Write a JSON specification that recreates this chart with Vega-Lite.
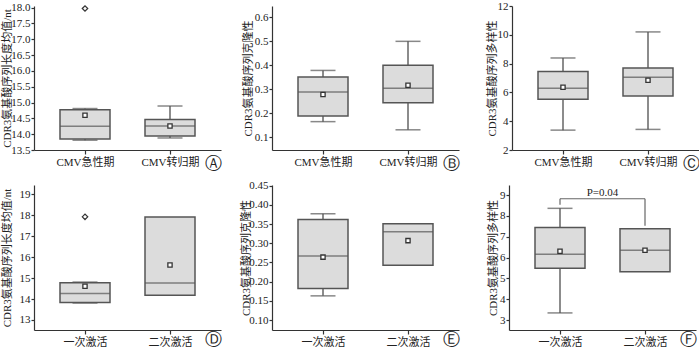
{
  "$schema": "https://vega.github.io/schema/vega-lite/v6.json",
  "padding": {"top": 0, "left": 0, "right": 0, "bottom": 0},
  "spacing": 8,
  "datasets": {
    "A": [
      {"g": "CMV急性期", "lo": 13.81, "q1": 13.85, "med": 14.25, "q3": 14.77, "hi": 14.81, "mean": 14.6},
      {"g": "CMV转归期", "lo": 13.88, "q1": 13.94, "med": 14.26, "q3": 14.46, "hi": 14.89, "mean": 14.26}
    ],
    "Ao": [{"g": "CMV急性期", "v": 17.97}],
    "B": [
      {"g": "CMV急性期", "lo": 0.165, "q1": 0.188, "med": 0.288, "q3": 0.351, "hi": 0.378, "mean": 0.278},
      {"g": "CMV转归期", "lo": 0.131, "q1": 0.244, "med": 0.304, "q3": 0.4, "hi": 0.499, "mean": 0.316}
    ],
    "C": [
      {"g": "CMV急性期", "lo": 3.38, "q1": 5.52, "med": 6.28, "q3": 7.45, "hi": 8.39, "mean": 6.36},
      {"g": "CMV转归期", "lo": 3.43, "q1": 5.75, "med": 7.05, "q3": 7.7, "hi": 10.2, "mean": 6.84}
    ],
    "D": [
      {"g": "一次激活", "lo": 13.81, "q1": 13.84, "med": 14.27, "q3": 14.78, "hi": 14.81, "mean": 14.61},
      {"g": "二次激活", "lo": null, "q1": 14.18, "med": 14.77, "q3": 17.92, "hi": null, "mean": 15.63}
    ],
    "Do": [{"g": "一次激活", "v": 17.93}],
    "E": [
      {"g": "一次激活", "lo": 0.163, "q1": 0.182, "med": 0.267, "q3": 0.362, "hi": 0.377, "mean": 0.264},
      {"g": "二次激活", "lo": null, "q1": 0.243, "med": 0.33, "q3": 0.351, "hi": null, "mean": 0.307}
    ],
    "F": [
      {"g": "一次激活", "lo": 3.34, "q1": 5.49, "med": 6.16, "q3": 7.44, "hi": 8.36, "mean": 6.3},
      {"g": "二次激活", "lo": null, "q1": 5.32, "med": 6.35, "q3": 7.38, "hi": null, "mean": 6.35}
    ],
    "Fv": [
      {"g": "一次激活", "top": 8.82, "bottom": 8.53},
      {"g": "二次激活", "top": 8.82, "bottom": 7.52}
    ],
    "Fh": [{"g1": "一次激活", "g2": "二次激活", "y": 8.82}]
  },
  "vconcat": [
    {
      "spacing": 20,
      "hconcat": [
        {
          "width": 187, "height": 144,
          "data": {"name": "A"},
          "encoding": {"x": {"field": "g", "type": "nominal", "scale": {"type": "point", "padding": 0.6, "domain": ["CMV急性期", "CMV转归期"]}, "axis": {"title": "Ⓐ"}}},
          "layer": [
            {"mark": {"type": "rule", "color": "#666", "strokeWidth": 1.5}, "encoding": {"y": {"field": "lo", "type": "quantitative", "title": "CDR3氨基酸序列长度均值/nt", "scale": {"domain": [13.5, 18.05], "zero": false, "nice": false}, "axis": {"values": [13.5, 14, 14.5, 15, 15.5, 16, 16.5, 17, 17.5, 18], "tickCount": 30, "format": ".1f", "minExtent": 22, "maxExtent": 22, "titlePadding": 0}}, "y2": {"field": "hi"}}},
            {"mark": {"type": "tick", "color": "#555", "size": 25, "thickness": 1.5}, "encoding": {"y": {"field": "lo", "type": "quantitative", "scale": {"domain": [13.5, 18.05], "zero": false, "nice": false}}}},
            {"mark": {"type": "tick", "color": "#555", "size": 25, "thickness": 1.5}, "encoding": {"y": {"field": "hi", "type": "quantitative", "scale": {"domain": [13.5, 18.05], "zero": false, "nice": false}}}},
            {"mark": {"type": "bar", "size": 50, "fill": "#dcdcdc", "stroke": "#555", "strokeWidth": 1.5}, "encoding": {"y": {"field": "q1", "type": "quantitative", "scale": {"domain": [13.5, 18.05], "zero": false, "nice": false}}, "y2": {"field": "q3"}}},
            {"mark": {"type": "tick", "color": "#555", "size": 50, "thickness": 1.5}, "encoding": {"y": {"field": "med", "type": "quantitative", "scale": {"domain": [13.5, 18.05], "zero": false, "nice": false}}}},
            {"mark": {"type": "point", "shape": "square", "size": 18, "filled": true, "fill": "white", "stroke": "#333", "strokeWidth": 1.3, "opacity": 1}, "encoding": {"y": {"field": "mean", "type": "quantitative", "scale": {"domain": [13.5, 18.05], "zero": false, "nice": false}}}},
            {"data": {"name": "Ao"}, "mark": {"type": "point", "shape": "diamond", "size": 30, "filled": true, "fill": "white", "stroke": "#333", "strokeWidth": 1.2, "opacity": 1}, "encoding": {"y": {"field": "v", "type": "quantitative", "scale": {"domain": [13.5, 18.05], "zero": false, "nice": false}}}}
          ]
        },
        {
          "spacing": 26,
          "hconcat": [
            {
              "width": 187, "height": 144,
              "data": {"name": "B"},
              "encoding": {"x": {"field": "g", "type": "nominal", "scale": {"type": "point", "padding": 0.6, "domain": ["CMV急性期", "CMV转归期"]}, "axis": {"title": "Ⓑ"}}},
              "layer": [
                {"mark": {"type": "rule", "color": "#666", "strokeWidth": 1.5}, "encoding": {"y": {"field": "lo", "type": "quantitative", "title": "CDR3氨基酸序列克隆性", "scale": {"domain": [0.047, 0.646], "zero": false, "nice": false}, "axis": {"values": [0.1, 0.2, 0.3, 0.4, 0.5, 0.6], "tickCount": 30, "format": ".1f", "minExtent": 18, "maxExtent": 18, "titlePadding": 1}}, "y2": {"field": "hi"}}},
                {"mark": {"type": "tick", "color": "#555", "size": 25, "thickness": 1.5}, "encoding": {"y": {"field": "lo", "type": "quantitative", "scale": {"domain": [0.047, 0.646], "zero": false, "nice": false}}}},
                {"mark": {"type": "tick", "color": "#555", "size": 25, "thickness": 1.5}, "encoding": {"y": {"field": "hi", "type": "quantitative", "scale": {"domain": [0.047, 0.646], "zero": false, "nice": false}}}},
                {"mark": {"type": "bar", "size": 50, "fill": "#dcdcdc", "stroke": "#555", "strokeWidth": 1.5}, "encoding": {"y": {"field": "q1", "type": "quantitative", "scale": {"domain": [0.047, 0.646], "zero": false, "nice": false}}, "y2": {"field": "q3"}}},
                {"mark": {"type": "tick", "color": "#555", "size": 50, "thickness": 1.5}, "encoding": {"y": {"field": "med", "type": "quantitative", "scale": {"domain": [0.047, 0.646], "zero": false, "nice": false}}}},
                {"mark": {"type": "point", "shape": "square", "size": 18, "filled": true, "fill": "white", "stroke": "#333", "strokeWidth": 1.3, "opacity": 1}, "encoding": {"y": {"field": "mean", "type": "quantitative", "scale": {"domain": [0.047, 0.646], "zero": false, "nice": false}}}}
              ]
            },
            {
              "width": 187, "height": 144,
              "data": {"name": "C"},
              "encoding": {"x": {"field": "g", "type": "nominal", "scale": {"type": "point", "padding": 0.6, "domain": ["CMV急性期", "CMV转归期"]}, "axis": {"title": "Ⓒ"}}},
              "layer": [
                {"mark": {"type": "rule", "color": "#666", "strokeWidth": 1.5}, "encoding": {"y": {"field": "lo", "type": "quantitative", "title": "CDR3氨基酸序列多样性", "scale": {"domain": [2, 12], "zero": false, "nice": false}, "axis": {"values": [2, 4, 6, 8, 10, 12], "tickCount": 30, "format": "d", "minExtent": 14, "maxExtent": 14, "titlePadding": 1}}, "y2": {"field": "hi"}}},
                {"mark": {"type": "tick", "color": "#555", "size": 25, "thickness": 1.5}, "encoding": {"y": {"field": "lo", "type": "quantitative", "scale": {"domain": [2, 12], "zero": false, "nice": false}}}},
                {"mark": {"type": "tick", "color": "#555", "size": 25, "thickness": 1.5}, "encoding": {"y": {"field": "hi", "type": "quantitative", "scale": {"domain": [2, 12], "zero": false, "nice": false}}}},
                {"mark": {"type": "bar", "size": 50, "fill": "#dcdcdc", "stroke": "#555", "strokeWidth": 1.5}, "encoding": {"y": {"field": "q1", "type": "quantitative", "scale": {"domain": [2, 12], "zero": false, "nice": false}}, "y2": {"field": "q3"}}},
                {"mark": {"type": "tick", "color": "#555", "size": 50, "thickness": 1.5}, "encoding": {"y": {"field": "med", "type": "quantitative", "scale": {"domain": [2, 12], "zero": false, "nice": false}}}},
                {"mark": {"type": "point", "shape": "square", "size": 18, "filled": true, "fill": "white", "stroke": "#333", "strokeWidth": 1.3, "opacity": 1}, "encoding": {"y": {"field": "mean", "type": "quantitative", "scale": {"domain": [2, 12], "zero": false, "nice": false}}}}
              ]
            }
          ]
        }
      ]
    },
    {
      "spacing": 18,
      "hconcat": [
        {
          "width": 187, "height": 145,
          "data": {"name": "D"},
          "encoding": {"x": {"field": "g", "type": "nominal", "scale": {"type": "point", "padding": 0.6, "domain": ["一次激活", "二次激活"]}, "axis": {"title": "Ⓓ", "titlePadding": -16}}},
          "layer": [
            {"mark": {"type": "rule", "color": "#666", "strokeWidth": 1.5}, "encoding": {"y": {"field": "lo", "type": "quantitative", "title": "CDR3氨基酸序列长度均值/nt", "scale": {"domain": [12.52, 19.45], "zero": false, "nice": false}, "axis": {"values": [13, 14, 15, 16, 17, 18, 19], "tickCount": 30, "format": "d", "minExtent": 22, "maxExtent": 22, "titlePadding": 0}}, "y2": {"field": "hi"}}},
            {"mark": {"type": "tick", "color": "#555", "size": 25, "thickness": 1.5}, "encoding": {"y": {"field": "lo", "type": "quantitative", "scale": {"domain": [12.52, 19.45], "zero": false, "nice": false}}}},
            {"mark": {"type": "tick", "color": "#555", "size": 25, "thickness": 1.5}, "encoding": {"y": {"field": "hi", "type": "quantitative", "scale": {"domain": [12.52, 19.45], "zero": false, "nice": false}}}},
            {"mark": {"type": "bar", "size": 50, "fill": "#dcdcdc", "stroke": "#555", "strokeWidth": 1.5}, "encoding": {"y": {"field": "q1", "type": "quantitative", "scale": {"domain": [12.52, 19.45], "zero": false, "nice": false}}, "y2": {"field": "q3"}}},
            {"mark": {"type": "tick", "color": "#555", "size": 50, "thickness": 1.5}, "encoding": {"y": {"field": "med", "type": "quantitative", "scale": {"domain": [12.52, 19.45], "zero": false, "nice": false}}}},
            {"mark": {"type": "point", "shape": "square", "size": 18, "filled": true, "fill": "white", "stroke": "#333", "strokeWidth": 1.3, "opacity": 1}, "encoding": {"y": {"field": "mean", "type": "quantitative", "scale": {"domain": [12.52, 19.45], "zero": false, "nice": false}}}},
            {"data": {"name": "Do"}, "mark": {"type": "point", "shape": "diamond", "size": 30, "filled": true, "fill": "white", "stroke": "#333", "strokeWidth": 1.2, "opacity": 1}, "encoding": {"y": {"field": "v", "type": "quantitative", "scale": {"domain": [12.52, 19.45], "zero": false, "nice": false}}}}
          ]
        },
        {
          "spacing": 27,
          "hconcat": [
            {
              "width": 187, "height": 145,
              "data": {"name": "E"},
              "encoding": {"x": {"field": "g", "type": "nominal", "scale": {"type": "point", "padding": 0.6, "domain": ["一次激活", "二次激活"]}, "axis": {"title": "Ⓔ", "titlePadding": -16}}},
              "layer": [
                {"mark": {"type": "rule", "color": "#666", "strokeWidth": 1.5}, "encoding": {"y": {"field": "lo", "type": "quantitative", "title": "CDR3氨基酸序列克隆性", "scale": {"domain": [0.074, 0.452], "zero": false, "nice": false}, "axis": {"values": [0.1, 0.15, 0.2, 0.25, 0.3, 0.35, 0.4, 0.45], "tickCount": 30, "format": ".2f", "minExtent": 21, "maxExtent": 21, "titlePadding": 0}}, "y2": {"field": "hi"}}},
                {"mark": {"type": "tick", "color": "#555", "size": 25, "thickness": 1.5}, "encoding": {"y": {"field": "lo", "type": "quantitative", "scale": {"domain": [0.074, 0.452], "zero": false, "nice": false}}}},
                {"mark": {"type": "tick", "color": "#555", "size": 25, "thickness": 1.5}, "encoding": {"y": {"field": "hi", "type": "quantitative", "scale": {"domain": [0.074, 0.452], "zero": false, "nice": false}}}},
                {"mark": {"type": "bar", "size": 50, "fill": "#dcdcdc", "stroke": "#555", "strokeWidth": 1.5}, "encoding": {"y": {"field": "q1", "type": "quantitative", "scale": {"domain": [0.074, 0.452], "zero": false, "nice": false}}, "y2": {"field": "q3"}}},
                {"mark": {"type": "tick", "color": "#555", "size": 50, "thickness": 1.5}, "encoding": {"y": {"field": "med", "type": "quantitative", "scale": {"domain": [0.074, 0.452], "zero": false, "nice": false}}}},
                {"mark": {"type": "point", "shape": "square", "size": 18, "filled": true, "fill": "white", "stroke": "#333", "strokeWidth": 1.3, "opacity": 1}, "encoding": {"y": {"field": "mean", "type": "quantitative", "scale": {"domain": [0.074, 0.452], "zero": false, "nice": false}}}}
              ]
            },
            {
              "width": 187, "height": 145,
              "title": {"text": "P=0.04", "offset": -13, "anchor": "middle", "fontSize": 11, "fontWeight": "normal", "font": "Liberation Serif", "color": "#222"},
              "data": {"name": "F"},
              "encoding": {"x": {"field": "g", "type": "nominal", "scale": {"type": "point", "padding": 0.6, "domain": ["一次激活", "二次激活"]}, "axis": {"title": "Ⓕ", "titlePadding": -16}}},
              "layer": [
                {"mark": {"type": "rule", "color": "#666", "strokeWidth": 1.5}, "encoding": {"y": {"field": "lo", "type": "quantitative", "title": "CDR3氨基酸序列多样性", "scale": {"domain": [2.52, 9.48], "zero": false, "nice": false}, "axis": {"values": [3, 4, 5, 6, 7, 8, 9], "tickCount": 30, "format": "d", "minExtent": 10, "maxExtent": 10, "titlePadding": 1}}, "y2": {"field": "hi"}}},
                {"mark": {"type": "tick", "color": "#555", "size": 25, "thickness": 1.5}, "encoding": {"y": {"field": "lo", "type": "quantitative", "scale": {"domain": [2.52, 9.48], "zero": false, "nice": false}}}},
                {"mark": {"type": "tick", "color": "#555", "size": 25, "thickness": 1.5}, "encoding": {"y": {"field": "hi", "type": "quantitative", "scale": {"domain": [2.52, 9.48], "zero": false, "nice": false}}}},
                {"mark": {"type": "bar", "size": 50, "fill": "#dcdcdc", "stroke": "#555", "strokeWidth": 1.5}, "encoding": {"y": {"field": "q1", "type": "quantitative", "scale": {"domain": [2.52, 9.48], "zero": false, "nice": false}}, "y2": {"field": "q3"}}},
                {"mark": {"type": "tick", "color": "#555", "size": 50, "thickness": 1.5}, "encoding": {"y": {"field": "med", "type": "quantitative", "scale": {"domain": [2.52, 9.48], "zero": false, "nice": false}}}},
                {"mark": {"type": "point", "shape": "square", "size": 18, "filled": true, "fill": "white", "stroke": "#333", "strokeWidth": 1.3, "opacity": 1}, "encoding": {"y": {"field": "mean", "type": "quantitative", "scale": {"domain": [2.52, 9.48], "zero": false, "nice": false}}}},
                {"data": {"name": "Fv"}, "mark": {"type": "rule", "color": "#666", "strokeWidth": 1.2}, "encoding": {"x": {"field": "g", "type": "nominal"}, "y": {"field": "bottom", "type": "quantitative", "scale": {"domain": [2.52, 9.48], "zero": false, "nice": false}}, "y2": {"field": "top"}}},
                {"data": {"name": "Fh"}, "mark": {"type": "rule", "color": "#666", "strokeWidth": 1.2}, "encoding": {"x": {"field": "g1", "type": "nominal"}, "x2": {"field": "g2"}, "y": {"field": "y", "type": "quantitative", "scale": {"domain": [2.52, 9.48], "zero": false, "nice": false}}}}
              ]
            }
          ]
        }
      ]
    }
  ],
  "config": {
    "view": {"stroke": null},
    "font": "Liberation Serif, Noto Sans CJK SC",
    "axis": {
      "grid": false, "domainColor": "#333", "tickColor": "#333", "domainWidth": 1.2, "tickWidth": 1.2, "tickSize": 3,
      "labelColor": "#222", "titleColor": "#222", "labelFontSize": 11, "titleFontSize": 11, "titleFontWeight": "normal",
      "labelFont": "Liberation Serif, Noto Sans CJK SC", "titleFont": "Liberation Serif, Noto Sans CJK SC", "labelPadding": 1, "titlePadding": 1, "labelOverlap": false
    },
    "axisX": {"labelAngle": 0, "tickSize": 4, "labelPadding": 2, "titleFont": "DejaVu Sans", "titleFontSize": 17, "titleAnchor": "end", "titlePadding": -12, "titleColor": "#222"}
  }
}
